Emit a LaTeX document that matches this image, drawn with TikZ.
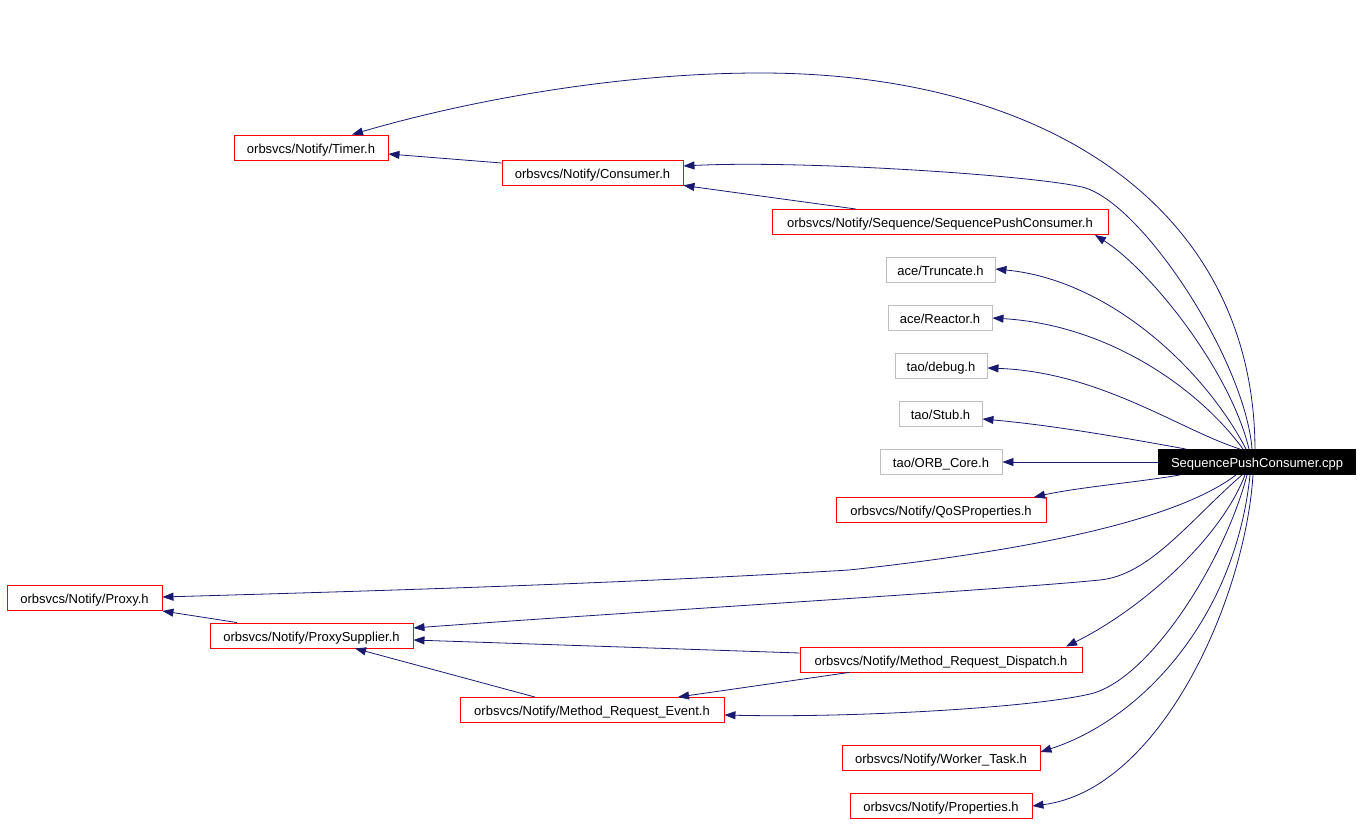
\documentclass[tikz,border=0pt]{standalone}
\usepackage{fontspec}
\setmainfont{Liberation Sans}
\usetikzlibrary{arrows.meta,calc}
\definecolor{edgeblue}{HTML}{191970}
\definecolor{boxgray}{HTML}{BFBFBF}
\begin{document}
\begin{tikzpicture}[x=1pt,y=-1pt,
  hdr/.style={draw=red, line width=0.9pt, minimum height=25pt, inner sep=0pt,
              text height=11.4pt, text depth=0pt,
              font=\fontsize{13}{15}\selectfont, fill=white},
  ext/.style={hdr, draw=boxgray},
  mainbox/.style={hdr, draw=black, fill=black, text=white},
  dep/.style={draw=edgeblue, line width=0.8pt, -{Triangle[length=11pt,width=8pt]}}
]
\useasboundingbox (0,0) rectangle (1363,824);

% nodes
\node[hdr, minimum width=154pt] (timer)    at (311,147.5) {orbsvcs/Notify/Timer.h};
\node[hdr, minimum width=181pt] (consumer) at (592.5,172.5) {orbsvcs/Notify/Consumer.h};
\node[hdr, minimum width=336pt] (spc)      at (940,222) {orbsvcs/Notify/Sequence/SequencePushConsumer.h};
\node[ext, minimum width=109pt] (truncate) at (940.5,270) {ace/Truncate.h};
\node[ext, minimum width=104pt] (reactor)  at (940,318) {ace/Reactor.h};
\node[ext, minimum width=92pt]  (debug)    at (941,366) {tao/debug.h};
\node[ext, minimum width=83pt]  (stub)     at (940.5,414) {tao/Stub.h};
\node[ext, minimum width=122pt] (orb)      at (941,462) {tao/ORB\_Core.h};
\node[hdr, minimum width=210pt] (qos)      at (941,510) {orbsvcs/Notify/QoSProperties.h};
\node[hdr, minimum width=155pt] (proxy)    at (84.5,598) {orbsvcs/Notify/Proxy.h};
\node[hdr, minimum width=203pt] (psup)     at (311.5,635.5) {orbsvcs/Notify/ProxySupplier.h};
\node[hdr, minimum width=282pt] (mrd)      at (941,659.5) {orbsvcs/Notify/Method\_Request\_Dispatch.h};
\node[hdr, minimum width=264pt] (mre)      at (592,710) {orbsvcs/Notify/Method\_Request\_Event.h};
\node[hdr, minimum width=198pt] (worker)   at (941,758) {orbsvcs/Notify/Worker\_Task.h};
\node[hdr, minimum width=182pt] (props)    at (941,806) {orbsvcs/Notify/Properties.h};
\node[mainbox, minimum width=197pt] (cpp)  at (1257,462) {SequencePushConsumer.cpp};

% edges from the .cpp file (upwards)
\draw[dep] ($(cpp.north)+(-2,0)$) .. controls (1254,210) and (1050,73) .. (760,73)
           .. controls (620,73) and (470,100) .. ($(timer.north)+(41,0)$);
\draw[dep] ($(cpp.north)+(-5,0)$) .. controls (1245,360) and (1141,201) .. (1082,187)
           .. controls (1030,175) and (800,160) .. ($(consumer.east)+(0,-6.5)$);
\draw[dep] ($(cpp.north)+(-8,0)$) .. controls (1230,370) and (1150,270) .. ($(spc.south)+(155,0)$);
\draw[dep] ($(cpp.north)+(-11,0)$) .. controls (1205,370) and (1110,280) .. ($(truncate.east)+(0,-1)$);
\draw[dep] ($(cpp.north)+(-14,0)$) .. controls (1200,390) and (1110,325) .. (reactor.east);
\draw[dep] ($(cpp.north)+(-17,0)$) .. controls (1180,430) and (1100,372) .. ($(debug.east)+(0,2)$);
\draw[dep] ($(cpp.north)+(-71,0)$) .. controls (1120,437) and (1050,425) .. ($(stub.east)+(0,5)$);
\draw[dep] (cpp.west) -- (orb.east);
% edges from the .cpp file (downwards)
\draw[dep] ($(cpp.south)+(-77,0)$) .. controls (1140,482) and (1080,487) .. ($(qos.north)+(93,0)$);
\draw[dep] ($(cpp.south)+(-21,0)$) .. controls (1190,510) and (1080,545) .. (849,570)
           .. controls (600,585) and (300,593) .. ($(proxy.east)+(0,-1)$);
\draw[dep] ($(cpp.south)+(-15,0)$) .. controls (1190,520) and (1150,575) .. (1100,580)
           .. controls (1000,590) and (600,614) .. ($(psup.east)+(0,-7.5)$);
\draw[dep] ($(cpp.south)+(-12,0)$) .. controls (1220,540) and (1140,610) .. ($(mrd.north)+(125,0)$);
\draw[dep] ($(cpp.south)+(-10,0)$) .. controls (1225,560) and (1150,680) .. (1090,694)
           .. controls (1030,708) and (850,718) .. ($(mre.east)+(0,5)$);
\draw[dep] ($(cpp.south)+(-7,0)$) .. controls (1235,620) and (1140,720) .. ($(worker.east)+(0,-6)$);
\draw[dep] ($(cpp.south)+(-4,0)$) .. controls (1245,600) and (1160,790) .. (props.east);

% edges between headers
\draw[dep] ($(consumer.west)+(0,-9.5)$) -- ($(timer.east)+(0,6.5)$);
\draw[dep] ($(spc.north)+(-84,0)$) -- (consumer.south east);
\draw[dep] ($(psup.north)+(-74.5,0)$) -- (proxy.south east);
\draw[dep] ($(mrd.west)+(0,-6.5)$) -- ($(psup.east)+(0,4.5)$);
\draw[dep] ($(mrd.south)+(-92,0)$) -- ($(mre.north)+(86,0)$);
\draw[dep] ($(mre.north)+(-57,0)$) -- ($(psup.south)+(43.5,0)$);
\end{tikzpicture}
\end{document}
